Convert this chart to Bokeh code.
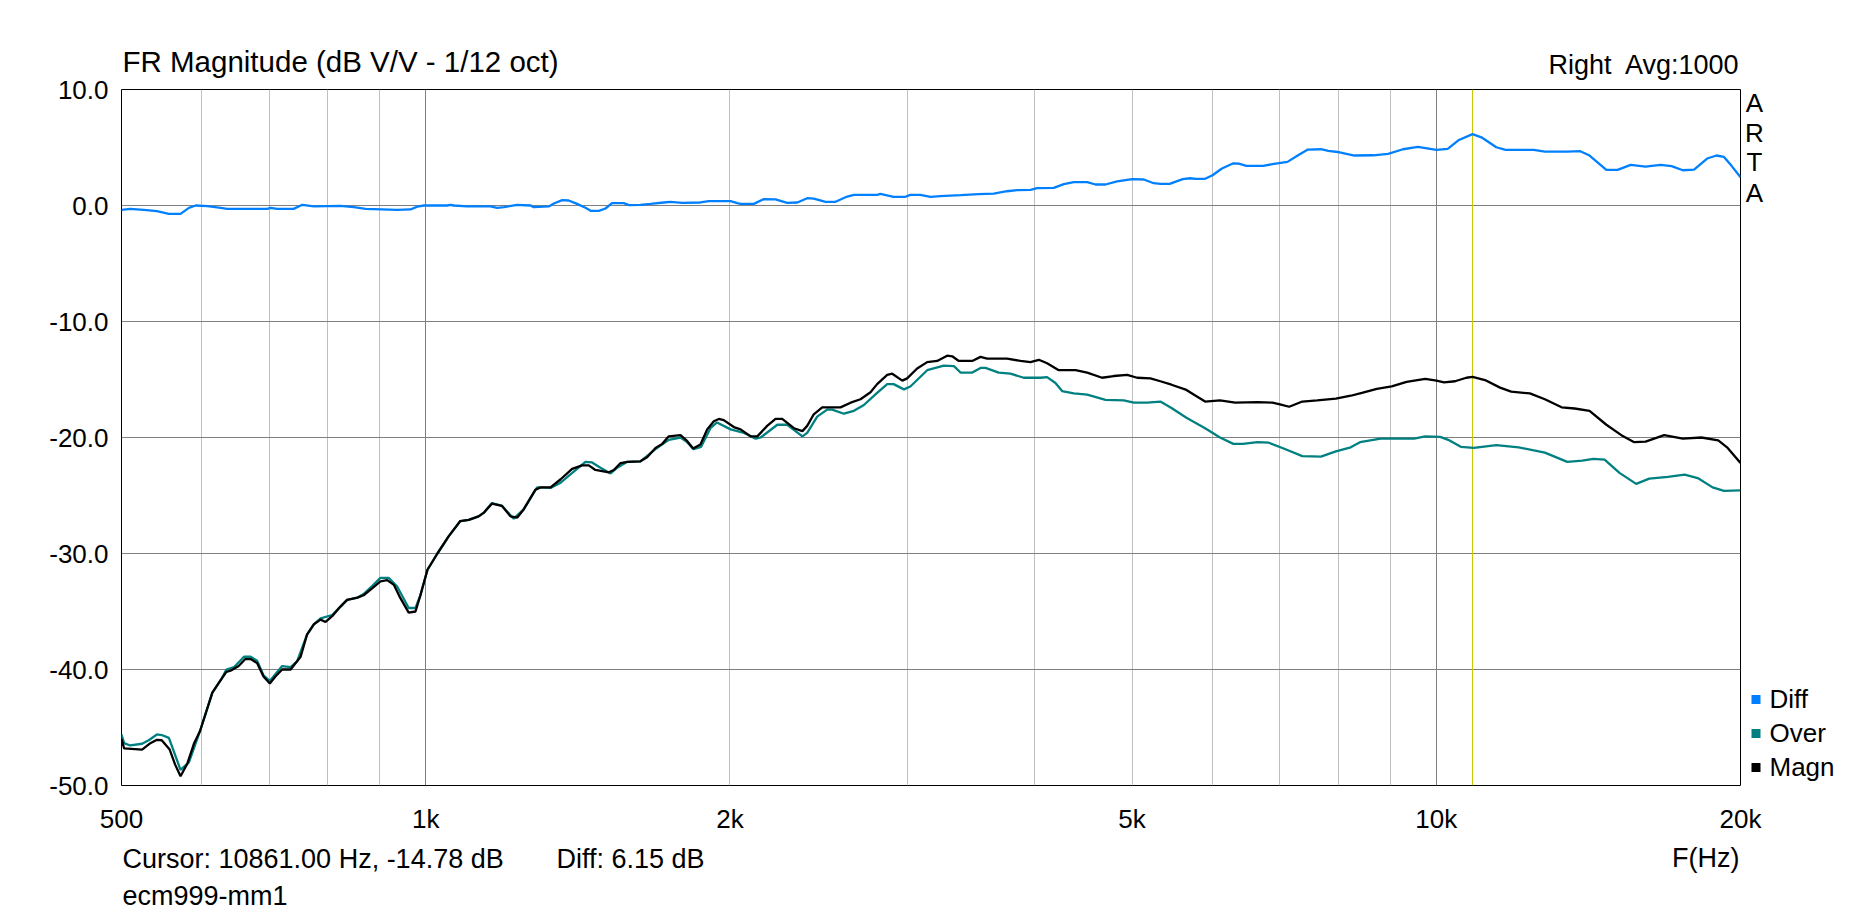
from bokeh.plotting import figure
from bokeh.layouts import column, row
from bokeh.models import Range1d, FixedTicker, Span, Grid, PrintfTickFormatter, LinearScale
from bokeh.core.properties import value
from bokeh.embed import file_html
from bokeh.resources import INLINE

# ---- measurement data (frequency in Hz, level in dB) ----
diff_freq = [500, 510, 526, 542, 557, 572, 583, 592, 608, 627, 636, 697, 702, 713, 740, 755, 775, 823,
             849, 872, 937, 966, 981, 996, 1050, 1058, 1066, 1099, 1159, 1177, 1195, 1232, 1270, 1279,
             1324, 1339, 1365, 1385, 1412, 1439, 1456, 1484, 1506, 1529, 1570, 1589, 1631, 1669, 1720,
             1746, 1794, 1870, 1906, 2003, 2034, 2049, 2112, 2161, 2219, 2279, 2332, 2385, 2421, 2487,
             2544, 2613, 2653, 2797, 2818, 2904, 2983, 3017, 3086, 3158, 3231, 3382, 3526, 3648, 3761,
             3848, 3967, 4028, 4183, 4280, 4378, 4514, 4600, 4706, 4833, 5001, 5135, 5253, 5333, 5447,
             5541, 5612, 5707, 5780, 5905, 6006, 6136, 6298, 6377, 6487, 6740, 6884, 7124, 7306, 7463,
             7688, 7820, 8022, 8299, 8660, 8960, 9269, 9589, 10005, 10264, 10530, 10861, 11083, 11466,
             11711, 12485, 12807, 13478, 13883, 14180, 14733, 15115, 15574, 16109, 16670, 17094, 17538,
             17992, 18535, 18935, 19261, 19588, 20000]
diff_db = [-0.37, -0.29, -0.37, -0.49, -0.72, -0.72, -0.2, 0.0, -0.05, -0.2, -0.29, -0.29, -0.2, -0.29,
           -0.29, 0.06, -0.08, -0.03, -0.14, -0.29, -0.37, -0.34, -0.1, 0.0, 0.0, 0.06, 0.0, -0.08, -0.08,
           -0.2, -0.14, 0.06, 0.0, -0.14, -0.08, 0.17, 0.46, 0.43, 0.14, -0.2, -0.46, -0.46, -0.26, 0.2,
           0.2, 0.03, 0.06, 0.14, 0.26, 0.32, 0.23, 0.26, 0.37, 0.37, 0.2, 0.14, 0.14, 0.55, 0.52, 0.23,
           0.26, 0.63, 0.6, 0.32, 0.32, 0.77, 0.92, 0.92, 1.0, 0.75, 0.75, 0.92, 0.92, 0.75, 0.8, 0.89,
           0.98, 1.03, 1.23, 1.32, 1.35, 1.49, 1.52, 1.84, 2.01, 2.01, 1.81, 1.81, 2.07, 2.27, 2.24, 1.92,
           1.87, 1.87, 2.1, 2.27, 2.35, 2.3, 2.3, 2.61, 3.19, 3.64, 3.61, 3.42, 3.42, 3.56, 3.76, 4.36,
           4.82, 4.85, 4.71, 4.59, 4.31, 4.33, 4.45, 4.85, 5.05, 4.79, 4.88, 5.65, 6.15, 5.88, 5.02, 4.79,
           4.79, 4.65, 4.65, 4.68, 4.31, 3.07, 3.07, 3.5, 3.36, 3.5, 3.39, 3.04, 3.1, 4.05, 4.31, 4.19,
           3.44, 2.44]

over_freq = [500, 503, 510, 524, 532, 542, 548, 557, 572, 583, 598, 615, 627, 635, 646, 661, 671, 681,
             691, 701, 721, 735, 746, 763, 775, 787, 808, 823, 836, 856, 868, 885, 902, 919, 937, 962,
             977, 988, 1004, 1027, 1054, 1082, 1103, 1128, 1141, 1163, 1190, 1222, 1250, 1289, 1329,
             1360, 1385, 1439, 1461, 1489, 1524, 1547, 1583, 1631, 1688, 1740, 1787, 1814, 1841, 1873,
             1913, 1942, 2003, 2065, 2121, 2145, 2228, 2279, 2359, 2385, 2440, 2496, 2525, 2593, 2653,
             2714, 2797, 2862, 2904, 2973, 3017, 3135, 3256, 3332, 3382, 3474, 3540, 3580, 3690, 3790,
             3906, 4059, 4120, 4199, 4263, 4378, 4514, 4706, 4906, 5020, 5175, 5333, 5470, 5659, 5905,
             6109, 6298, 6434, 6655, 6827, 7062, 7370, 7688, 7955, 8229, 8405, 8808, 9190, 9507, 9752,
             10090, 10307, 10574, 10892, 11466, 12065, 12807, 13478, 13943, 14303, 14674, 15180, 15768,
             16247, 16951, 17609, 18143, 18769, 19261, 20000]
over_db = [-45.6, -46.35, -46.55, -46.4, -46.1, -45.6, -45.65, -45.9, -48.65, -48.0, -45.3, -42.0, -40.9,
           -40.0, -39.8, -38.9, -38.9, -39.25, -40.5, -41.0, -39.7, -39.8, -39.3, -37.0, -36.1, -35.6,
           -35.3, -34.6, -34.0, -33.8, -33.5, -32.8, -32.1, -32.1, -32.85, -34.7, -34.7, -33.6, -31.4,
           -30.0, -28.5, -27.2, -27.1, -26.8, -26.5, -25.65, -25.9, -27.0, -26.2, -24.3, -24.35, -23.9,
           -23.3, -22.1, -22.15, -22.6, -23.1, -22.6, -22.1, -22.05, -21.0, -20.2, -20.0, -20.4, -21.0,
           -20.8, -19.2, -18.7, -19.3, -19.6, -20.1, -20.0, -18.9, -18.9, -19.9, -19.6, -18.2, -17.6,
           -17.6, -17.95, -17.7, -17.2, -16.15, -15.4, -15.4, -15.85, -15.6, -14.2, -13.8, -13.85, -14.4,
           -14.4, -14.0, -14.0, -14.4, -14.5, -14.85, -14.85, -14.8, -15.3, -16.0, -16.2, -16.3, -16.75,
           -16.8, -17.0, -17.0, -16.9, -17.45, -18.3, -19.2, -20.0, -20.55, -20.55, -20.4, -20.45, -20.95,
           -21.6, -21.65, -21.2, -20.85, -20.4, -20.1, -20.1, -20.1, -19.9, -19.95, -20.25, -20.8, -20.9,
           -20.65, -20.85, -21.3, -22.1, -22.0, -21.85, -21.9, -23.05, -24.0, -23.55, -23.4, -23.2, -23.5,
           -24.3, -24.6, -24.55]

magn_freq = [500, 503, 524, 534, 542, 548, 558, 565, 572, 581, 590, 598, 615, 627, 635, 641, 653, 663,
             671, 681, 691, 701, 710, 721, 735, 752, 763, 775, 787, 796, 808, 823, 836, 856, 868, 885,
             902, 916, 930, 944, 962, 977, 988, 1004, 1027, 1054, 1082, 1103, 1128, 1141, 1163, 1190,
             1213, 1232, 1250, 1284, 1299, 1329, 1360, 1396, 1428, 1450, 1472, 1518, 1535, 1559, 1583,
             1631, 1656, 1688, 1714, 1740, 1787, 1814, 1839, 1870, 1899, 1928, 1950, 1972, 2018, 2049,
             2097, 2129, 2177, 2219, 2253, 2314, 2359, 2385, 2421, 2468, 2573, 2633, 2693, 2755, 2797,
             2862, 2895, 2962, 2995, 3064, 3135, 3207, 3281, 3319, 3369, 3474, 3540, 3594, 3761, 3877,
             3967, 4043, 4120, 4231, 4396, 4514, 4670, 4795, 4945, 5058, 5214, 5333, 5470, 5659, 5780,
             5905, 6109, 6324, 6655, 6884, 7004, 7152, 7370, 7624, 7955, 8229, 8442, 8733, 9034, 9346,
             9752, 10005, 10177, 10438, 10708, 10861, 11174, 11564, 11861, 12377, 12807, 13305, 13707,
             14180, 14733, 15245, 15700, 16109, 16808, 17538, 18296, 19012, 19424, 20000]
magn_db = [-46.0, -46.8, -46.9, -46.35, -46.06, -46.1, -46.9, -48.2, -49.2, -48.1, -46.35, -45.3, -42.0,
           -40.9, -40.2, -40.1, -39.7, -39.1, -39.1, -39.45, -40.6, -41.2, -40.6, -40.0, -40.0, -38.9,
           -37.0, -36.1, -35.7, -35.9, -35.4, -34.6, -34.0, -33.8, -33.6, -33.0, -32.4, -32.3, -32.7,
           -33.85, -35.1, -35.0, -33.6, -31.4, -30.0, -28.5, -27.2, -27.1, -26.8, -26.5, -25.7, -25.9,
           -26.8, -26.9, -26.2, -24.5, -24.3, -24.3, -23.6, -22.7, -22.4, -22.4, -22.8, -23.0, -22.8,
           -22.2, -22.1, -22.05, -21.7, -20.9, -20.55, -19.9, -19.8, -20.3, -20.95, -20.6, -19.3, -18.6,
           -18.4, -18.5, -19.1, -19.3, -19.9, -19.9, -19.0, -18.4, -18.4, -19.2, -19.45, -19.0, -18.0,
           -17.4, -17.4, -17.0, -16.7, -16.1, -15.4, -14.6, -14.5, -15.1, -14.9, -14.05, -13.5, -13.4,
           -12.95, -13.0, -13.4, -13.4, -13.05, -13.2, -13.2, -13.4, -13.5, -13.3, -13.6, -14.2, -14.2,
           -14.4, -14.85, -14.7, -14.6, -14.85, -14.9, -15.15, -15.45, -15.9, -16.4, -16.9, -16.8, -17.0,
           -16.95, -17.0, -17.15, -17.35, -16.9, -16.8, -16.65, -16.4, -16.15, -15.8, -15.6, -15.2,
           -14.95, -15.1, -15.25, -15.15, -14.85, -14.78, -15.05, -15.7, -16.05, -16.2, -16.7, -17.4,
           -17.5, -17.7, -18.9, -19.8, -20.4, -20.35, -19.8, -20.1, -20.0, -20.25, -20.9, -22.2]

series_names = ["Diff", "Over", "Magn"]
series_colors = ["#0080FF", "#008080", "#000000"]

x_tick_values = [500, 1000, 2000, 5000, 10000, 20000]
x_tick_labels = ["500", "1k", "2k", "5k", "10k", "20k"]
x_grid_minor = [600, 700, 800, 900, 2000, 3000, 4000, 5000, 6000, 7000, 8000, 9000, 20000]
x_grid_major = [1000, 10000]
y_tick_values = [-50, -40, -30, -20, -10, 0, 10]

cursor_freq = 10861.0
cursor_db = -14.78
cursor_diff = 6.15
channel = "Right"
averages = 1000

FONT = "Liberation Sans"
W, H = 1860, 917
FL, FR, FT, FB = 121, 1740, 89, 785   # chart frame edges on the page
TOP_H = 82                            # title strip height
MID_T = 74                            # top of the chart strip (overlaps the title strip)
MID_B = 800                           # bottom of the chart strip
MAIN_W = FR + 1                       # chart figure width
LINE_W = 2.3
BASE_SHIFT = 0.39                     # glyph anchor above the text baseline, in em


def strip(width, height, x0, x1, y0, y1, left=0, right=0, top=0, bottom=0):
    """Figure whose plotting area spans page pixels x0..x1, y0..y1 (y downwards)."""
    f = figure(width=width, height=height,
               x_range=Range1d(x0, x1), y_range=Range1d(y1, y0),
               output_backend="svg", toolbar_location=None,
               x_axis_location=None, y_axis_location=None,
               min_border_left=left, min_border_right=right,
               min_border_top=top, min_border_bottom=bottom)
    f.title.visible = False
    f.outline_line_color = None
    f.grid.visible = False
    f.background_fill_color = "white"
    f.border_fill_color = "white"
    return f


def write(f, texts, xs, baselines, size, align="left", **kw):
    """Text whose baseline sits at the given page-pixel rows."""
    em = float(size.replace("px", ""))
    ys = [b - BASE_SHIFT * em for b in baselines]
    f.text(x=xs, y=ys, text=texts, text_font=value(FONT), text_font_size=value(size),
           text_color="black", text_align=align, text_baseline="alphabetic", **kw)


# ---- title strip (plot area shares the chart's horizontal extent) ----
top = strip(W, TOP_H, FL, FR, 0, TOP_H, left=FL, right=W - FR)
write(top, ["FR Magnitude (dB V/V - 1/12 oct)"], [122], [73], "29.5px")
write(top, [channel], [1548], [75], "27px")
write(top, ["Avg:%d" % averages], [1738], [75], "27px", align="right")

# ---- chart ----
xr = Range1d(500, 20000)
p = figure(width=MAIN_W, height=MID_B - MID_T, x_axis_type="log", x_axis_location=None,
           x_range=xr, y_range=Range1d(-50, 10),
           output_backend="svg", toolbar_location=None,
           min_border_left=FL, min_border_right=MAIN_W - FR,
           min_border_top=FT - MID_T, min_border_bottom=MID_B - FB)
p.title.visible = False
p.background_fill_color = "white"
p.border_fill_color = "white"
p.border_fill_alpha = 0
p.outline_line_color = "black"
p.outline_line_width = 1

ax = p.yaxis[0]
ax.ticker = FixedTicker(ticks=y_tick_values, minor_ticks=[])
ax.formatter = PrintfTickFormatter(format="%.1f")
ax.axis_line_color = None
ax.major_tick_line_color = None
ax.minor_tick_line_color = None
ax.major_tick_out = 0
ax.major_tick_in = 0
ax.minor_tick_out = 0
ax.minor_tick_in = 0
ax.major_label_standoff = 13
ax.major_label_text_font = FONT
ax.major_label_text_font_size = "26px"
ax.major_label_text_color = "black"

p.xgrid.ticker = FixedTicker(ticks=x_grid_minor)
p.xgrid.grid_line_color = "#C0C0C0"
p.xgrid.grid_line_width = 1
p.add_layout(Grid(dimension=0, ticker=FixedTicker(ticks=x_grid_major),
                  grid_line_color="#808080", grid_line_width=1))
p.ygrid.ticker = FixedTicker(ticks=y_tick_values[1:-1])
p.ygrid.grid_line_color = "#808080"
p.ygrid.grid_line_width = 1

p.add_layout(Span(location=cursor_freq, dimension="height", line_color="#C8C800",
                  line_width=1, level="underlay"))

p.line(diff_freq, diff_db, line_color=series_colors[0], line_width=LINE_W)
p.line(over_freq, over_db, line_color=series_colors[1], line_width=LINE_W)
p.line(magn_freq, magn_db, line_color=series_colors[2], line_width=LINE_W)

# ---- right strip: program mark and legend (plot area shares the chart's vertical extent) ----
side = strip(W - MAIN_W, MID_B - MID_T, MAIN_W, W, FT, FB,
             top=FT - MID_T, bottom=MID_B - FB)
side.border_fill_alpha = 0
write(side, list("ARTA"), [1754] * 4, [113, 143, 172, 203], "26px", align="center")
leg_y = [699 + 34 * i for i in range(len(series_names))]
side.rect(x=[1755.5] * 3, y=leg_y, width=9, height=9, fill_color=series_colors, line_color=None)
write(side, series_names, [1769] * 3, [y + 10 for y in leg_y], "26px")

# ---- bottom strip: frequency axis and cursor readout ----
BOT_AX = 40
bot = figure(width=W, height=H - MID_B, x_axis_type="log", x_axis_location="above",
             y_axis_location=None, x_range=xr, y_range=Range1d(H, MID_B + BOT_AX),
             output_backend="svg", toolbar_location=None,
             min_border_left=FL, min_border_right=W - FR,
             min_border_top=BOT_AX, min_border_bottom=0)
bot.title.visible = False
bot.outline_line_color = None
bot.grid.visible = False
bot.background_fill_color = "white"
bot.border_fill_color = "white"
bot.extra_x_ranges = {"px": Range1d(FL, FR)}
bot.extra_x_scales = {"px": LinearScale()}

bx = bot.xaxis[0]
bx.ticker = FixedTicker(ticks=x_tick_values, minor_ticks=[])
bx.major_label_overrides = {float(v): t for v, t in zip(x_tick_values, x_tick_labels)}
bx.axis_line_color = None
bx.major_tick_line_color = None
bx.minor_tick_line_color = None
bx.major_tick_out = 0
bx.major_tick_in = 0
bx.minor_tick_out = 0
bx.minor_tick_in = 0
bx.major_label_standoff = 8
bx.major_label_text_font = FONT
bx.major_label_text_font_size = "26px"
bx.major_label_text_color = "black"

write(bot, ["Cursor: %.2f Hz, %.2f dB" % (cursor_freq, cursor_db)], [122], [868], "27px", x_range_name="px")
write(bot, ["Diff: %.2f dB" % cursor_diff], [556], [868], "27px", x_range_name="px")
write(bot, ["ecm999-mm1"], [122], [906], "27px", x_range_name="px")
write(bot, ["F(Hz)"], [1739], [867], "27px", align="right", x_range_name="px")

layout = column(top, row(p, side, margin=(MID_T - TOP_H, 0, 0, 0)), bot)
open("out.html", "w").write(file_html(layout, INLINE))
